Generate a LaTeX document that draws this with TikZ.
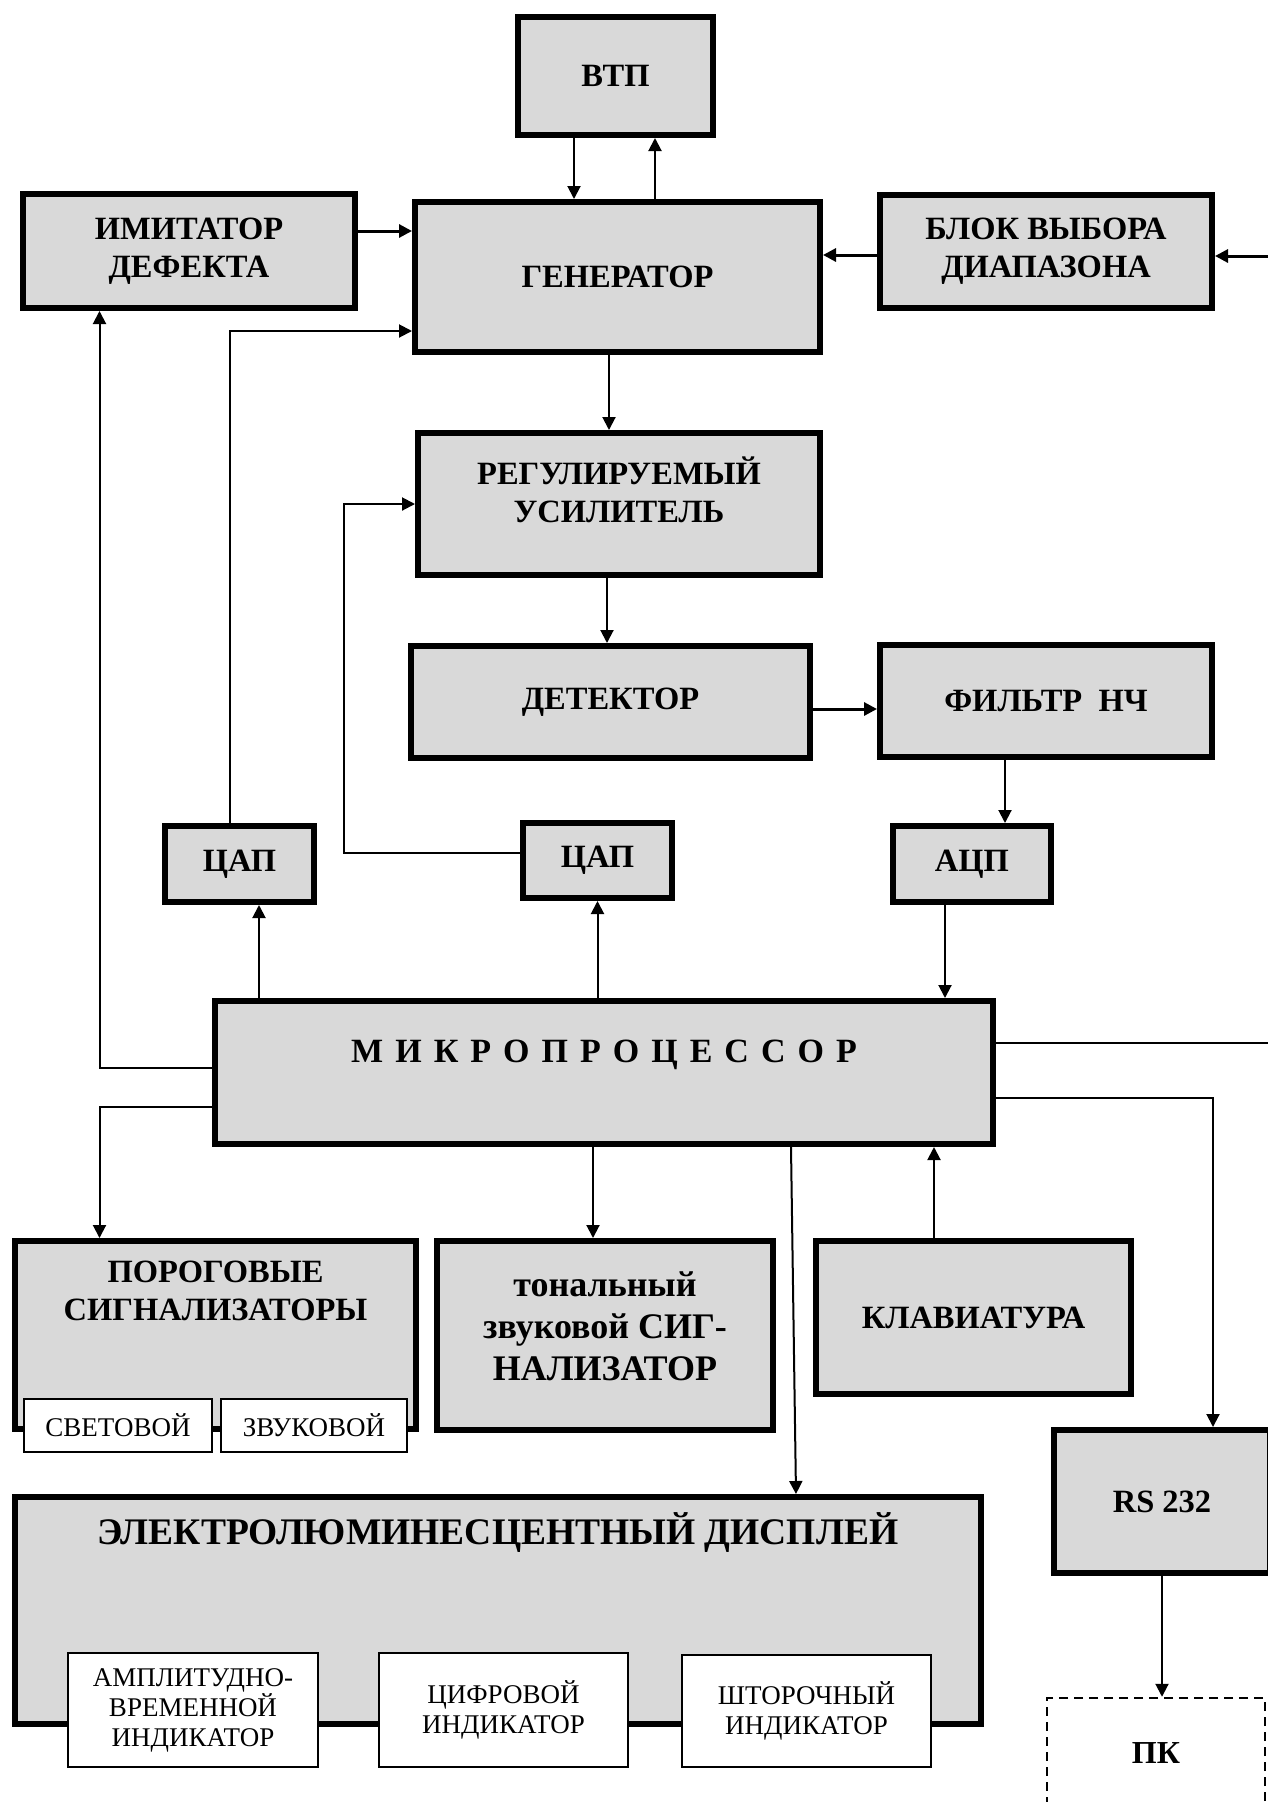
\documentclass[tikz,border=0pt]{standalone}
\usepackage{fontspec}
\setmainfont{Liberation Serif}
\usepackage{xcolor}
\definecolor{boxgray}{HTML}{D9D9D9}
\usepackage{tikz}
\usetikzlibrary{arrows.meta,positioning}

\begin{document}
\begin{tikzpicture}[
        x=1pt, y=-1pt,
        block/.style={rectangle, draw, line width=6pt, fill=boxgray, inner sep=0pt, align=center, font=\bfseries\fontsize{32.5}{38}\selectfont},
        title/.style={inner sep=0pt, align=center, font=\bfseries\fontsize{32.5}{38}\selectfont},
        subbox/.style={rectangle, draw, line width=2pt, fill=white, inner sep=0pt, align=center, font=\fontsize{27}{30}\selectfont},
        pcbox/.style={rectangle, draw, line width=2.5pt, dash pattern=on 9pt off 6pt, inner sep=0pt, font=\bfseries\fontsize{32}{38}\selectfont},
        link/.style={line width=2pt, -{Triangle[length=13pt,width=13pt]}},
        wide/.style={link, line width=3pt}
    ]
        \clip (0,0) rectangle (1268,1802);
        % upper chain
        \node[block, minimum width=195, minimum height=118] (vtp) at (615.5,76) {ВТП};
        \node[block, minimum width=405, minimum height=150] (gen) at (617.5,277) {ГЕНЕРАТОР};
        \node[block, minimum width=332, minimum height=114] (imit) at (189,251) {ИМИТАТОР\\ДЕФЕКТА};
        \node[block, minimum width=332, minimum height=113] (range) at (1046,251) {БЛОК ВЫБОРА\\ДИАПАЗОНА};
        \node[block, minimum width=402, minimum height=142] (amp) at (619,504) {};
        \node[title] (amptxt) at (619,490) {РЕГУЛИРУЕМЫЙ\\УСИЛИТЕЛЬ};
        \node[block, minimum width=399, minimum height=112] (det) at (610.5,702) {ДЕТЕКТОР};
        \node[block, minimum width=332, minimum height=112] (lpf) at (1046,701) {ФИЛЬТР\ \ НЧ};
        \node[block, minimum width=149, minimum height=76] (dac1) at (239.5,864) {ЦАП};
        \node[block, minimum width=149, minimum height=75] (dac2) at (597.5,860.5) {ЦАП};
        \node[block, minimum width=158, minimum height=76] (adc) at (972,864) {АЦП};

        % processor
        \node[block, minimum width=778, minimum height=143] (cpu) at (604,1072.5) {};
        \node[title, font=\bfseries\fontsize{34}{40}\selectfont] (cputxt) at (604,1055) {\spaceskip=12pt М И К Р О П Р О Ц Е С С О Р};

        % lower row
        \node[block, minimum width=401, minimum height=188] (thr) at (215.5,1335) {};
        \node[title] (thrtxt) at (215.5,1291) {ПОРОГОВЫЕ\\СИГНАЛИЗАТОРЫ};
        \node[subbox, minimum width=188, minimum height=53] (light) at (118,1425.5) {СВЕТОВОЙ};
        \node[subbox, minimum width=186, minimum height=53] (sound) at (314,1425.5) {ЗВУКОВОЙ};
        \node[block, minimum width=336, minimum height=189, font=\bfseries\fontsize{36}{42}\selectfont] (tone) at (605,1335.5) {};
        \node[title, font=\bfseries\fontsize{36}{42}\selectfont] (tonetxt) at (605,1326) {тональный\\звуковой СИГ-\\НАЛИЗАТОР};
        \node[block, minimum width=315, minimum height=153] (keys) at (973.5,1317.5) {КЛАВИАТУРА};
        \node[block, minimum width=216, minimum height=143] (rs) at (1162,1501.5) {RS 232};

        % display
        \node[block, minimum width=966, minimum height=227] (disp) at (498,1610.5) {};
        \node[title, font=\bfseries\fontsize{37.5}{42}\selectfont] (disptxt) at (498,1533) {ЭЛЕКТРОЛЮМИНЕСЦЕНТНЫЙ ДИСПЛЕЙ};
        \node[subbox, minimum width=250, minimum height=114] (ampind) at (193,1710) {АМПЛИТУДНО-\\ВРЕМЕННОЙ\\ИНДИКАТОР};
        \node[subbox, minimum width=249, minimum height=114] (digind) at (503.5,1710) {ЦИФРОВОЙ\\ИНДИКАТОР};
        \node[subbox, minimum width=249, minimum height=112] (barind) at (806.5,1711) {ШТОРОЧНЫЙ\\ИНДИКАТОР};
        \node[pcbox, minimum width=218, minimum height=110] (pc) at (1156,1753) {ПК};

        % free ends at the right edge
        \coordinate (rin) at (1268,256);
        \coordinate (cout) at (1268,1043);

        % connections
        \draw[link] ([xshift=-41.5pt]vtp.south) -- ([xshift=-41.5pt]vtp.south |- gen.north);
        \draw[link] ([xshift=39.5pt]vtp.south |- gen.north) -- ([xshift=39.5pt]vtp.south);
        \draw[wide] ([yshift=20pt]imit.east) -- ([yshift=20pt]imit.east -| gen.west);
        \draw[wide] ([yshift=-4pt]range.west) -- ([yshift=-4pt]range.west -| gen.east);
        \draw[wide] (rin) -- (rin -| range.east);
        \draw[link] ([xshift=-9.5pt]dac1.north) |- ([yshift=-54pt]gen.west);
        \draw[link] ([yshift=7.5pt]dac2.west) -- ++(-176,0) |- (amp.west);
        \draw[link] ([xshift=-8.5pt]gen.south) -- ([xshift=-8.5pt]gen.south |- amp.north);
        \draw[link] ([xshift=-12pt]amp.south) -- ([xshift=-12pt]amp.south |- det.north);
        \draw[wide] ([yshift=-7pt]det.east) -- ([yshift=-7pt]det.east -| lpf.west);
        \draw[link] ([xshift=-41pt]lpf.south) -- ([xshift=-41pt]lpf.south |- adc.north);
        \draw[link] ([xshift=-27pt]adc.south) -- ([xshift=-27pt]adc.south |- cpu.north);
        \draw[link] ([xshift=19.5pt]dac1.south |- cpu.north) -- ([xshift=19.5pt]dac1.south);
        \draw[link] (dac2.south |- cpu.north) -- (dac2.south);
        \draw[link] ([yshift=4.5pt]cpu.west) -| ([xshift=-89.5pt]imit.south);
        \draw[link] ([yshift=-34.5pt]cpu.west) -| ([xshift=-116pt]thr.north);
        \draw[link] ([xshift=-12pt]tone.north |- cpu.south) -- ([xshift=-12pt]tone.north);
        \draw[link] ([xshift=187pt]cpu.south) -- ([xshift=298pt]disp.north);
        \draw[link] ([xshift=-39.5pt]keys.north) -- ([xshift=-39.5pt]keys.north |- cpu.south);
        \draw[line width=2pt] ([yshift=29.5pt]cpu.east) -- (cout);
        \draw[link] ([yshift=-25.5pt]cpu.east) -| ([xshift=51pt]rs.north);
        \draw[link] (rs.south) -- (rs.south |- pc.north);
    \end{tikzpicture}
\end{document}
